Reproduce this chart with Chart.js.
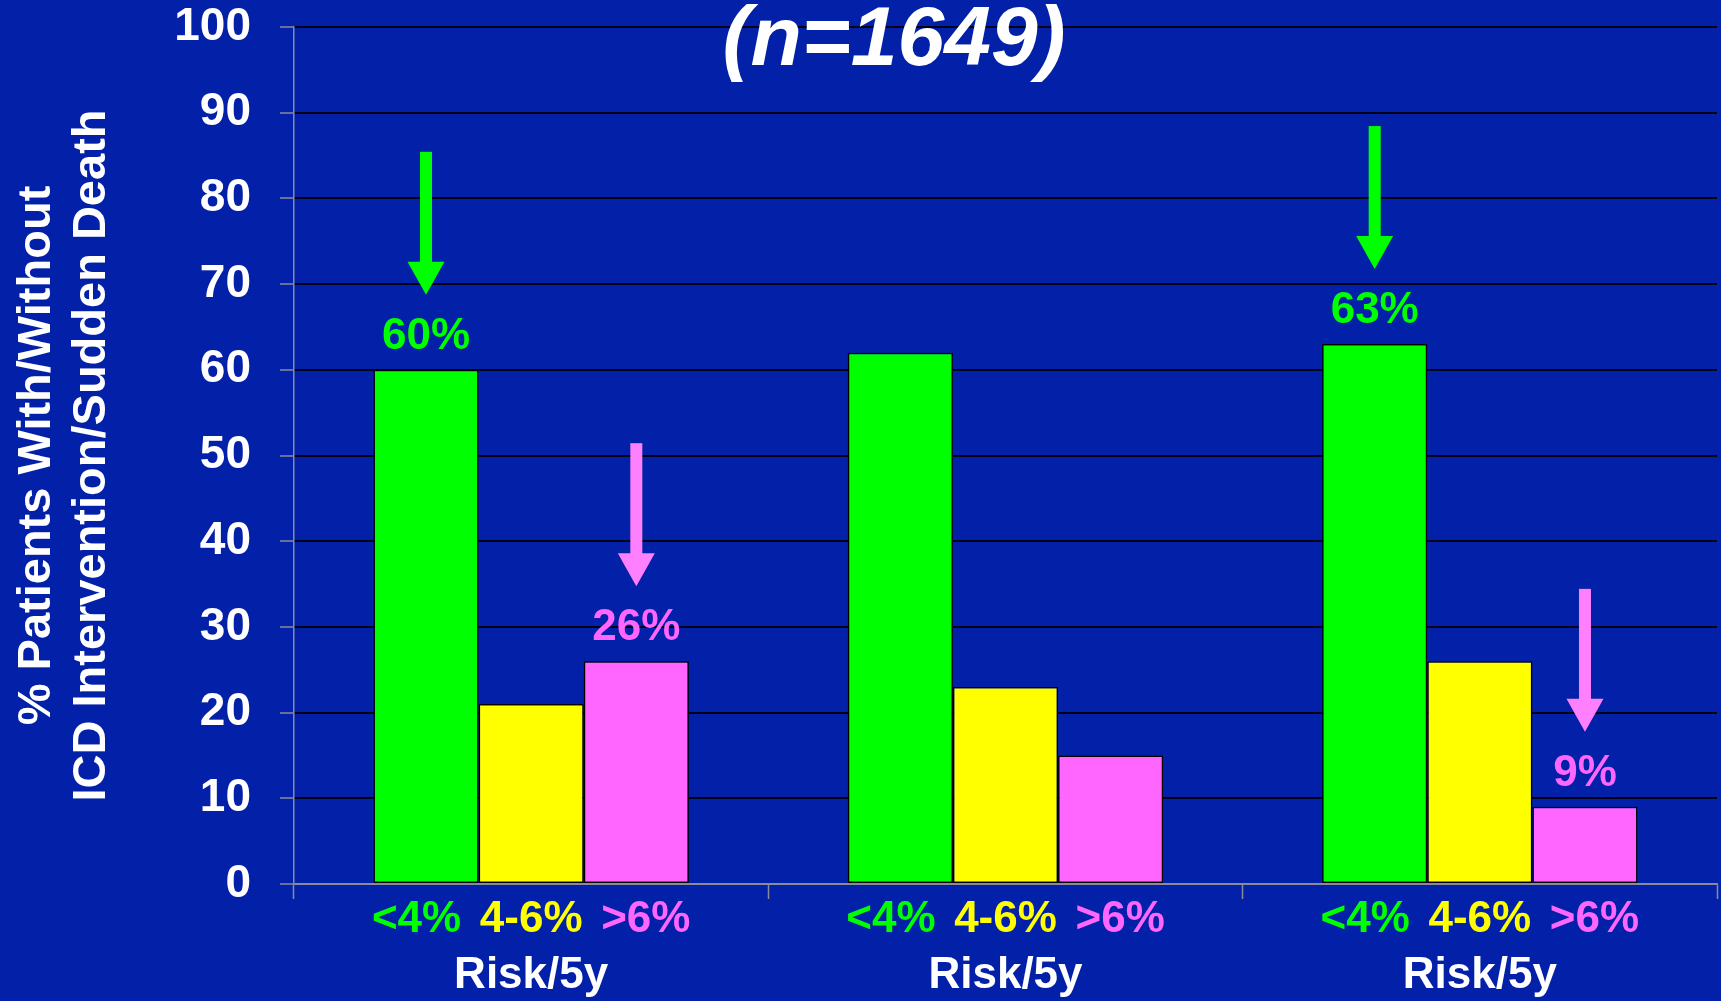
<!DOCTYPE html>
<html>
<head>
<meta charset="utf-8">
<title>ICD Intervention / Sudden Death by Risk Band</title>
<script src="https://cdn.jsdelivr.net/npm/chart.js@4.4.1/dist/chart.umd.min.js"></script>
<style>
  html, body { margin: 0; padding: 0; background: #0320A8; overflow: hidden; }
  #wrap { width: 1721px; height: 1001px; position: relative; }
</style>
</head>
<body>
<div id="wrap"><canvas id="chart" width="1721" height="1001"></canvas></div>
<script>
// ---- data ----
const categories = ['Risk/5y', 'Risk/5y', 'Risk/5y'];
const riskBands = ['<4%', '4-6%', '>6%'];
const lowRisk  = [60, 62, 63];   // <4% band
const midRisk  = [21, 23, 26];   // 4-6% band
const highRisk = [26, 15, 9];    // >6% band
const yTickValues = [0, 10, 20, 30, 40, 50, 60, 70, 80, 90, 100];
const titleText = '(n=1649)';
const yAxisTitle = ['% Patients With/Without', 'ICD Intervention/Sudden Death'];
// bars that carry a value callout: [dataset index, group index]
const callouts = [[0, 0], [2, 0], [0, 2], [2, 2]];

// ---- styling ----
const BG = '#0320A8';
const bandColors = ['#00FF00', '#FFFF00', '#FF66FF'];
const arrowColors = ['#00FF00', '#FFFF00', '#FF80FF'];
const AXIS_GREY = '#8A8A9A';
const FONT = '"Liberation Sans", Arial, Helvetica, sans-serif';

const background = {
  id: 'background',
  beforeDraw(chart) {
    const c = chart.ctx;
    c.save();
    c.fillStyle = BG;
    c.fillRect(0, 0, chart.width, chart.height);
    c.restore();
  }
};

function drawArrow(c, x, tipY, color) {
  const shaftW = 12, headW = 37, headL = 33, shaftL = 110;
  c.fillStyle = color;
  c.fillRect(x - shaftW / 2, tipY - headL - shaftL, shaftW, shaftL + 1);
  c.beginPath();
  c.moveTo(x - headW / 2, tipY - headL);
  c.lineTo(x + headW / 2, tipY - headL);
  c.lineTo(x, tipY);
  c.closePath();
  c.fill();
}

const overlay = {
  id: 'overlay',
  afterDraw(chart) {
    const c = chart.ctx;
    const xs = chart.scales.x;
    c.save();

    // coloured risk band labels under each bar
    c.font = 'bold 44px ' + FONT;
    c.textAlign = 'center';
    c.textBaseline = 'middle';
    categories.forEach((_, i) => {
      const cx = xs.getPixelForValue(i);
      riskBands.forEach((band, j) => {
        const bar = chart.getDatasetMeta(j).data[i];
        c.fillStyle = bandColors[j];
        c.fillText(band, cx + (bar.x - cx) * 1.09, xs.top + 36);
      });
    });

    // value callouts with arrows
    callouts.forEach(([ds, idx]) => {
      const bar = chart.getDatasetMeta(ds).data[idx];
      const v = chart.data.datasets[ds].data[idx];
      c.fillStyle = bandColors[ds];
      c.font = 'bold 44px ' + FONT;
      c.fillText(v + '%', bar.x, bar.y - 33);
      drawArrow(c, bar.x, bar.y - 75, arrowColors[ds]);
    });

    // heading
    c.fillStyle = '#FFFFFF';
    c.font = 'italic bold 84px ' + FONT;
    c.textBaseline = 'alphabetic';
    c.fillText(titleText, 894, 65);
    c.restore();
  }
};

const chart = new Chart(document.getElementById('chart'), {
  type: 'bar',
  data: {
    labels: categories,
    datasets: [
      { label: riskBands[0], data: lowRisk,  backgroundColor: bandColors[0] },
      { label: riskBands[1], data: midRisk,  backgroundColor: bandColors[1] },
      { label: riskBands[2], data: highRisk, backgroundColor: bandColors[2] }
    ].map(d => Object.assign(d, { borderColor: '#000000', borderWidth: 1.5, borderSkipped: false }))
  },
  options: {
    responsive: false,
    animation: false,
    devicePixelRatio: 1,
    categoryPercentage: 0.665,
    barPercentage: 1.0,
    layout: { padding: { top: 27, right: 4, bottom: 0, left: 0 } },
    plugins: {
      legend: { display: false },
      title: { display: false },
      tooltip: { enabled: false }
    },
    scales: {
      x: {
        grid: {
          offset: true,
          drawOnChartArea: false,
          drawTicks: true,
          tickLength: 15,
          tickColor: AXIS_GREY,
          tickWidth: 1.5
        },
        border: { color: AXIS_GREY, width: 1.5 },
        ticks: {
          color: '#FFFFFF',
          font: { family: FONT, size: 44, weight: 'bold' },
          padding: 50,
          maxRotation: 0
        },
        afterFit(scale) { scale.height = 117; }
      },
      y: {
        min: 0,
        max: 100,
        afterBuildTicks(scale) { scale.ticks = yTickValues.map(v => ({ value: v })); },
        grid: {
          color: ctx => (ctx.tick && ctx.tick.value === 0) ? AXIS_GREY : 'rgba(0,0,12,0.92)',
          lineWidth: 2,
          drawTicks: true,
          tickLength: 14,
          tickColor: AXIS_GREY,
          tickWidth: 1.5
        },
        border: { color: AXIS_GREY, width: 1.5 },
        ticks: {
          color: '#FFFFFF',
          font: { family: FONT, size: 46, weight: 'bold', lineHeight: 1.0 },
          padding: 29
        },
        title: {
          display: true,
          text: yAxisTitle,
          color: '#FFFFFF',
          font: { family: FONT, size: 47, weight: 'bold', lineHeight: 1.17 },
          padding: { top: 10, bottom: 0 }
        },
        afterFit(scale) {
          scale.width = 294;
          scale.paddingTop = 0;
          scale.paddingBottom = 0;
        }
      }
    }
  },
  plugins: [background, overlay]
});
</script>
</body>
</html>
